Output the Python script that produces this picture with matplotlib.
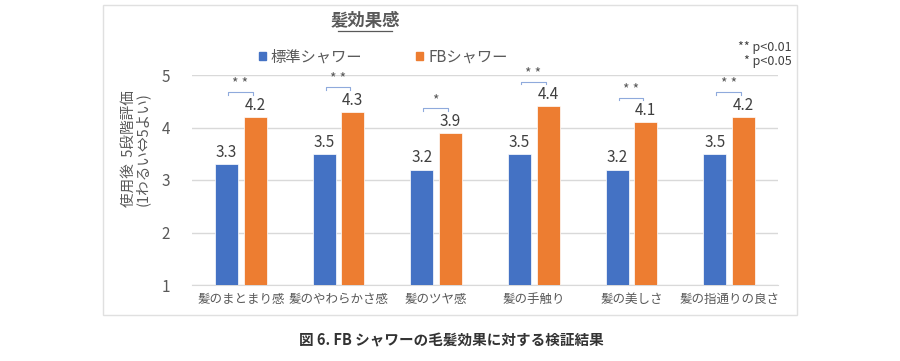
import matplotlib
matplotlib.use("Agg")
import matplotlib.pyplot as plt
from matplotlib.patches import Rectangle, Patch
import numpy as np

plt.rcParams['font.family'] = ['Noto Sans CJK JP', 'DejaVu Sans']

categories = ["髪のまとまり感", "髪のやわらかさ感", "髪のツヤ感", "髪の手触り", "髪の美しさ", "髪の指通りの良さ"]
standard = [3.3, 3.5, 3.2, 3.5, 3.2, 3.5]
fb = [4.2, 4.3, 3.9, 4.4, 4.1, 4.2]
signif = ["**", "**", "*", "**", "**", "**"]
series_names = ["標準シャワー", "FBシャワー"]
yticks = [1, 2, 3, 4, 5]

blue = "#4472C4"
orange = "#ED7D31"
gray = "#595959"

fig = plt.figure(figsize=(9, 3.61), dpi=100)
fig.patches.append(Rectangle((103/900, 1-315/361), (797-103)/900, (315-5)/361,
                             transform=fig.transFigure, fill=False,
                             edgecolor="#e0e0e0", linewidth=1.0))

ax = fig.add_axes([192/900, 1-285/361, (778-192)/900, (285-75)/361])
x = np.arange(len(categories))
w = 0.235
off = 0.147
ax.bar(x - off, standard, w, color=blue, edgecolor="white", linewidth=0.5, zorder=3)
ax.bar(x + off, fb, w, color=orange, edgecolor="white", linewidth=0.5, zorder=3)
ax.set_ylim(1, 5)
ax.set_xlim(-0.5, len(categories) - 0.5)
ax.set_yticks(yticks)
ax.set_yticklabels([str(t) for t in yticks], fontsize=11, color=gray)
ax.set_xticks(x)
ax.set_xticklabels(categories, fontsize=9, color=gray)
ax.tick_params(axis='both', length=0)
ax.tick_params(axis='y', pad=16)
ax.tick_params(axis='x', pad=6)
ax.grid(axis='y', color="#d9d9d9", linewidth=1.0, zorder=0)
for s in ["top", "right", "left"]:
    ax.spines[s].set_visible(False)
ax.spines["bottom"].set_color("#d9d9d9")

for xi, v in zip(x, standard):
    ax.text(xi - off, v + 0.06, f"{v:.1f}", ha="center", va="bottom", fontsize=11, color="#404040")
for xi, v in zip(x, fb):
    ax.text(xi + off, v + 0.06, f"{v:.1f}", ha="center", va="bottom", fontsize=11, color="#404040")

for xi, v, s in zip(x, fb, signif):
    yb = v + 0.47
    x0, x1 = xi - 0.13, xi + 0.12
    ax.plot([x0, x0, x1, x1], [yb - 0.05, yb, yb, yb - 0.05], color="#8FAADC",
            linewidth=0.8, clip_on=False, zorder=4)
    ax.text((x0 + x1) / 2, yb + 0.02, " ".join(s), ha="center", va="bottom",
            fontsize=10, color=gray, clip_on=False)

ax.set_ylabel("使用後  5段階評価\n(1わるい⇔5よい)", fontsize=10.5, color=gray, labelpad=8,
              linespacing=1.0)
ax.yaxis.label.set_y((285 - 149) / 210)

# title
fig.text(365/900, 1-21/361, "髪効果感", ha="center", va="center", fontsize=12.5,
         fontweight="bold", color=gray)
fig.lines.append(plt.Line2D([338/900, 392/900], [1-31/361, 1-31/361], transform=fig.transFigure,
                            color=gray, linewidth=0.9))

# legend
fig.legend(handles=[Patch(color=blue, label=series_names[0]),
                    Patch(color=orange, label=series_names[1])],
           loc="center", bbox_to_anchor=(383/900, 1-57/361), ncol=2, frameon=False,
           fontsize=11, handlelength=0.5, handleheight=0.5, handletextpad=0.3,
           columnspacing=3.5, labelcolor=gray)

fig.text(792/900, 1-47/361, "** p<0.01", ha="right", va="center", fontsize=9, color="#404040")
fig.text(792/900, 1-62/361, "* p<0.05", ha="right", va="center", fontsize=9, color="#404040")

fig.text(451/900, 1-340/361, "図 6. FB シャワーの毛髪効果に対する検証結果", ha="center", va="center",
         fontsize=10.5, fontweight="bold", color="#333333")

fig.savefig("out.png", dpi=100, facecolor="white")
